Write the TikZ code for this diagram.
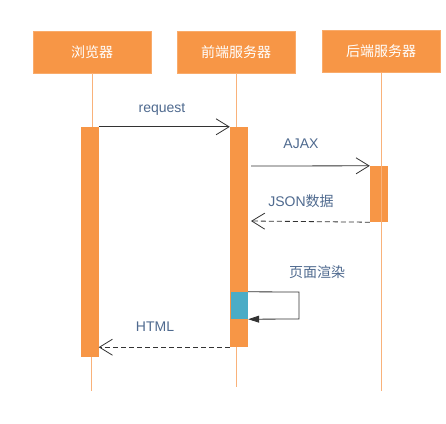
\documentclass[tikz,border=0pt]{standalone}
\usepackage{fontspec}
\setmainfont{Liberation Sans}
\newfontfamily\cjk{Noto Sans CJK SC}
\usetikzlibrary{arrows.meta}
\definecolor{org}{HTML}{F79646}
\definecolor{lorg}{HTML}{F9B27A}
\definecolor{blu}{HTML}{4BACC6}
\definecolor{lbl}{HTML}{4F6A8F}
\definecolor{ln}{HTML}{333333}
\tikzset{
  actor/.style={fill=org, draw=org!80!white, minimum width=118pt, minimum height=42pt, inner sep=0pt, text=white, font=\cjk\fontsize{14pt}{16pt}\selectfont},
  bar/.style={fill=org, inner sep=0pt, minimum width=18pt},
  life/.style={draw=lorg, line width=1pt},
  msg/.style={draw=ln, line width=0.8pt, -{Straight Barb[length=13pt,width=16pt,line width=0.8pt]}},
  reply/.style={msg, dash pattern=on 5pt off 3pt},
  lab/.style={text=lbl, inner sep=0pt, font=\fontsize{14pt}{16pt}\selectfont}
}
\begin{document}
\begin{tikzpicture}[x=1pt,y=-1pt]
\useasboundingbox (0,0) rectangle (446,423);
\fill[white] (0,0) rectangle (446,423);
% actors
\node[actor] (browser) at (92,52) {浏览器};
\node[actor] (front) at (236,52) {前端服务器};
\node[actor] (back) at (381,51.5) {后端服务器};
% activation bars
\node[bar, minimum height=230pt] (actB) at (89.5,242) {};
\node[bar, minimum height=220pt] (actF) at (239,237) {};
\node[bar, minimum height=56pt] (actK) at (379,194) {};
\node[fill=blu, inner sep=0pt, minimum width=17pt, minimum height=27pt] (render) at (239.5,305.5) {};
% lifeline ends
\coordinate (endB) at (91,391);
\coordinate (endF) at (236,387);
\coordinate (endK) at (381,391);
\draw[life] (browser.south) -- (browser.south |- actB.north);
\draw[life] (91,357) -- (endB);
\draw[life] (front.south) -- (front.south |- actF.north);
\draw[life] (236,347) -- (endF);
\draw[life] (back.south) -- (endK);
% messages
\draw[msg] (actB.north east) -- (actF.north west);
\node[lab] (lreq) at (162,109) {request};
\coordinate (ajaxS) at (251,166);
\draw[msg] (ajaxS) -- (actK.north west);
\node[lab] (lajax) at (301,144) {AJAX};
\coordinate (jsonE) at (251,221);
\draw[reply] (actK.south west) -- (jsonE);
\node[lab] (ljson) at (301,201) {JSON{\cjk 数据}};
\node[lab, font=\cjk\fontsize{14pt}{16pt}\selectfont] (lrender) at (317,272) {页面渲染};
\coordinate (loopA) at (299,292);
\coordinate (loopB) at (299,319);
\draw[ln, line width=0.8pt, -{Triangle[length=11pt,width=7pt]}] (render.north east) -- (loopA) -- (loopB) -- (render.south east);
\draw[reply] (actF.south west) -- (actB.east |- actF.south);
\node[lab] (lhtml) at (155,327) {HTML};
\end{tikzpicture}
\end{document}
